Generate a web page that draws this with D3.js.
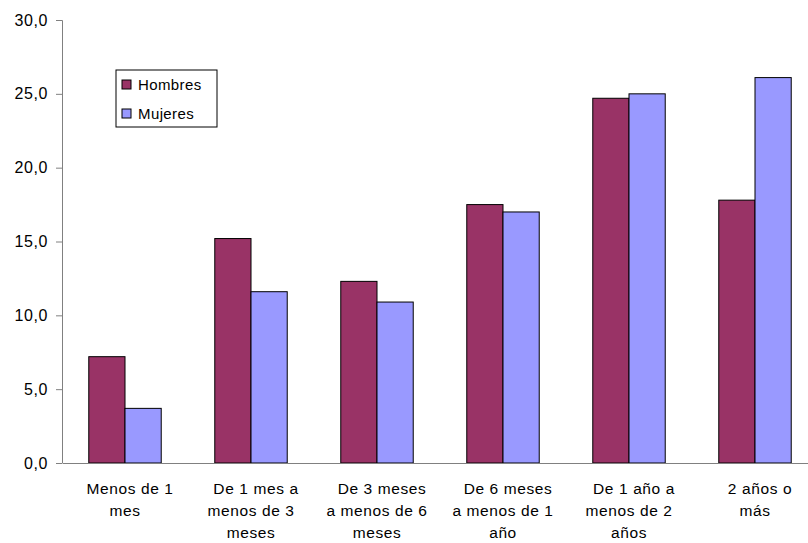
<!DOCTYPE html>
<html>
<head>
<meta charset="utf-8">
<script src="https://cdnjs.cloudflare.com/ajax/libs/d3/7.8.5/d3.min.js"></script>
<style>
  html, body { margin: 0; padding: 0; background: #fff; }
  text { font-family: "Liberation Sans", Arial, sans-serif; fill: #000; }
</style>
</head>
<body>
<div id="chart"></div>
<script>
const categories = [
  ["Menos de 1", "mes"],
  ["De 1 mes a", "menos de 3", "meses"],
  ["De 3 meses", "a menos de 6", "meses"],
  ["De 6 meses", "a menos de 1", "año"],
  ["De 1 año a", "menos de 2", "años"],
  ["2 años o", "más"]
];
const seriesNames = ["Hombres", "Mujeres"];
const hombres = [7.2, 15.2, 12.3, 17.5, 24.7, 17.8];
const mujeres = [3.7, 11.6, 10.9, 17.0, 25.0, 26.1];
const yTicks = [0, 5, 10, 15, 20, 25, 30];
const colors = ["#993366", "#9999FF"];

const W = 808, H = 543;
const margin = { left: 62, top: 20 };
const plotW = 756, plotH = 443;

const svg = d3.select("#chart").append("svg")
  .attr("width", W).attr("height", H);

const g = svg.append("g").attr("transform", `translate(${margin.left},${margin.top})`);

const x0 = d3.scaleBand().domain(d3.range(categories.length))
  .range([0, plotW]).paddingInner(0.425).paddingOuter(0.2125);
const x1 = d3.scaleBand().domain(seriesNames).range([0, x0.bandwidth()]);
const y = d3.scaleLinear().domain([0, 30]).range([plotH, 0]);

const data = categories.map((c, i) => ({ i, values: [hombres[i], mujeres[i]] }));

const groups = g.selectAll(".grp").data(data).enter().append("g")
  .attr("transform", d => `translate(${x0(d.i)},0)`);
groups.selectAll("rect").data(d => d.values.map((v, k) => ({ v, k })))
  .enter().append("rect")
  .attr("x", d => x1(seriesNames[d.k]))
  .attr("width", x1.bandwidth())
  .attr("y", d => y(d.v))
  .attr("height", d => plotH - y(d.v))
  .attr("fill", d => colors[d.k])
  .attr("stroke", "#000").attr("stroke-width", 1);

// Y axis
const yAxis = d3.axisLeft(y).tickValues(yTicks).tickSize(6).tickPadding(8)
  .tickFormat(d => d3.format(".1f")(d).replace(".", ","));
const ya = g.append("g").call(yAxis);
ya.select(".domain").attr("stroke", "#808080").attr("d", `M-6,0.5H0.5V${plotH}`);
ya.selectAll(".tick line").attr("stroke", "#808080");
ya.selectAll("text").style("font-size", "16px").style("letter-spacing", "0.6px").attr("fill", "#000");

// X axis line
const xa = g.append("g").attr("transform", `translate(0,${plotH})`)
  .call(d3.axisBottom(x0).tickSize(0).tickFormat(""));
xa.select(".domain").attr("stroke", "#808080");

// X labels
const lbl = g.append("g").attr("transform", `translate(0,${plotH})`);
categories.forEach((lines, i) => {
  const cx = x0(i) + x0.bandwidth() / 2;
  const t = lbl.append("text")
    .attr("x", cx)
    .attr("y", 31)
    .attr("text-anchor", "middle")
    .style("font-size", "15.5px")
    .style("letter-spacing", "0.6px");
  lines.forEach((ln, j) => {
    t.append("tspan").attr("x", cx + (j === 0 ? 5 : 0))
      .attr("dy", j === 0 ? 0 : 22).text(ln);
  });
});

// Legend
const leg = svg.append("g").attr("transform", "translate(116,70)");
leg.append("rect").attr("width", 101).attr("height", 57)
  .attr("fill", "#fff").attr("stroke", "#000").attr("stroke-width", 1);
seriesNames.forEach((s, k) => {
  const row = leg.append("g").attr("transform", `translate(0,${15 + k * 29})`);
  row.append("rect").attr("x", 6).attr("y", -5).attr("width", 9).attr("height", 9)
    .attr("fill", colors[k]).attr("stroke", "#000");
  row.append("text").attr("x", 22).attr("y", 5).style("font-size", "15px")
    .style("letter-spacing", "0.4px").text(s);
});
</script>
</body>
</html>
